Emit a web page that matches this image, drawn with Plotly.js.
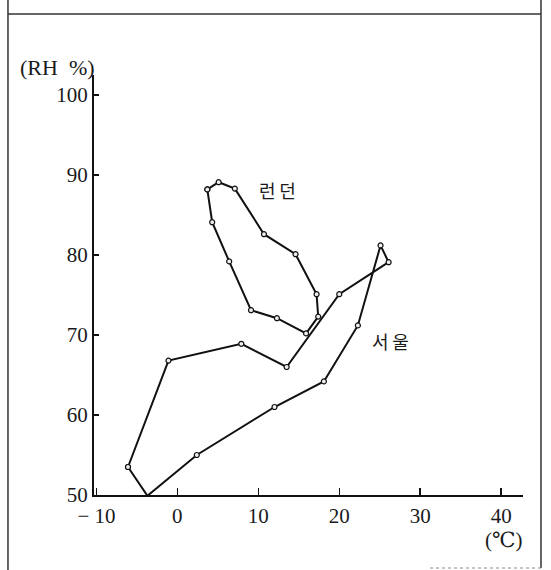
<!DOCTYPE html>
<html>
<head>
<meta charset="utf-8">
<script src="https://cdn.plot.ly/plotly-3.0.1.min.js"></script>
<style>
  html, body { margin: 0; padding: 0; background: #fff; }
  #chart { width: 551px; height: 570px; }
</style>
</head>
<body>
<div id="chart"></div>
<script>
// Monthly mean temperature (°C) and relative humidity (%), Jan..Dec
const seoulTemp = [-6.1, -3.7, 2.4, 12.0, 18.1, 22.3, 25.1, 26.1, 20.0, 13.5, 7.9, -1.1];
const seoulRH   = [53.5, 49.9, 55.0, 61.0, 64.2, 71.2, 81.2, 79.1, 75.1, 66.0, 68.9, 66.8];
const londonTemp = [3.7, 4.3, 6.4, 9.1, 12.3, 15.9, 17.4, 17.2, 14.6, 10.7, 7.1, 5.1];
const londonRH   = [88.2, 84.1, 79.2, 73.1, 72.1, 70.2, 72.3, 75.1, 80.1, 82.6, 88.3, 89.1];
const xTickVals = [-10, 0, 10, 20, 30, 40];
const xTickText = ['\u2212 10', '0', '10', '20', '30', '40'];
const yTickVals = [50, 60, 70, 80, 90, 100];
const yTickText = ['50', '60', '70', '80', '90', '100'];
const seoulLabel = '서\u2009울';
const londonLabel = '런\u2009던';
const yUnit = '(RH\u00a0\u00a0%)';
const xUnit = '(℃)';

function closeLoop(a) { return a.concat([a[0]]); }

const lineStyle = { color: '#111', width: 2 };
const markerStyle = { symbol: 'circle', size: 5, color: '#eee', line: { color: '#111', width: 1.2 } };

const traces = [
  { type: 'scatter', mode: 'lines+markers', name: '서울',
    x: closeLoop(seoulTemp), y: closeLoop(seoulRH),
    line: lineStyle, marker: markerStyle, cliponaxis: false },
  { type: 'scatter', mode: 'lines+markers', name: '런던',
    x: closeLoop(londonTemp), y: closeLoop(londonRH),
    line: lineStyle, marker: markerStyle, cliponaxis: false }
];

const serif = { family: '"Liberation Serif", "DejaVu Serif", serif', size: 21, color: '#1a1a1a' };
const kfont = { family: '"Noto Sans CJK KR", sans-serif', size: 18, color: '#1a1a1a' };

// plot area: l=93.6, w=429.4 ; t=75, h=420
const L = 93.6, W = 429.4, T = 75, H = 420;
function px(x) { return (x - L) / W; }
function py(y) { return (T + H - y) / H; }

const frame = { color: '#333', width: 1.5 };
const layout = {
  width: 551, height: 570,
  margin: { l: 93.6, r: 551 - L - W, t: T, b: 570 - T - H },
  paper_bgcolor: '#fff', plot_bgcolor: '#fff',
  showlegend: false,
  xaxis: {
    range: [-10.3, 42.7], showgrid: false, zeroline: false,
    showline: true, linecolor: '#111', linewidth: 2,
    ticks: 'inside', ticklen: 7, tickwidth: 1.5, tickcolor: '#111',
    tickvals: xTickVals, ticktext: xTickText, tickfont: serif,
    ticklabelstandoff: 1
  },
  yaxis: {
    range: [50, 102.5], showgrid: false, zeroline: false,
    showline: true, linecolor: '#111', linewidth: 2,
    ticks: 'inside', ticklen: 5, tickwidth: 1.5, tickcolor: '#111',
    tickvals: yTickVals, ticktext: yTickText, tickfont: serif
  },
  annotations: [
    { x: 12.4, y: 88.1, xref: 'x', yref: 'y', text: londonLabel, showarrow: false, font: kfont },
    { x: 26.3, y: 69.3, xref: 'x', yref: 'y', text: seoulLabel, showarrow: false, font: kfont },
    { x: px(57.5), y: py(67), xref: 'paper', yref: 'paper', text: yUnit, showarrow: false,
      font: Object.assign({}, serif, { size: 22 }), xanchor: 'center', yanchor: 'middle' },
    { x: px(503), y: py(540), xref: 'paper', yref: 'paper', text: xUnit, showarrow: false,
      font: serif, xanchor: 'center', yanchor: 'middle' }
  ],
  shapes: [
    { type: 'line', xref: 'paper', yref: 'paper', x0: px(7.5), x1: px(7.5), y0: py(0), y1: py(570), line: frame },
    { type: 'line', xref: 'paper', yref: 'paper', x0: px(541), x1: px(541), y0: py(0), y1: py(568), line: frame },
    { type: 'line', xref: 'paper', yref: 'paper', x0: px(7.5), x1: px(541), y0: py(14), y1: py(14), line: frame },
    { type: 'line', xref: 'paper', yref: 'paper', x0: px(430), x1: px(541), y0: py(568), y1: py(568), line: { color: '#888', width: 1, dash: 'dot' } }
  ]
};

Plotly.newPlot('chart', traces, layout, { displayModeBar: false, staticPlot: true });
</script>
</body>
</html>
